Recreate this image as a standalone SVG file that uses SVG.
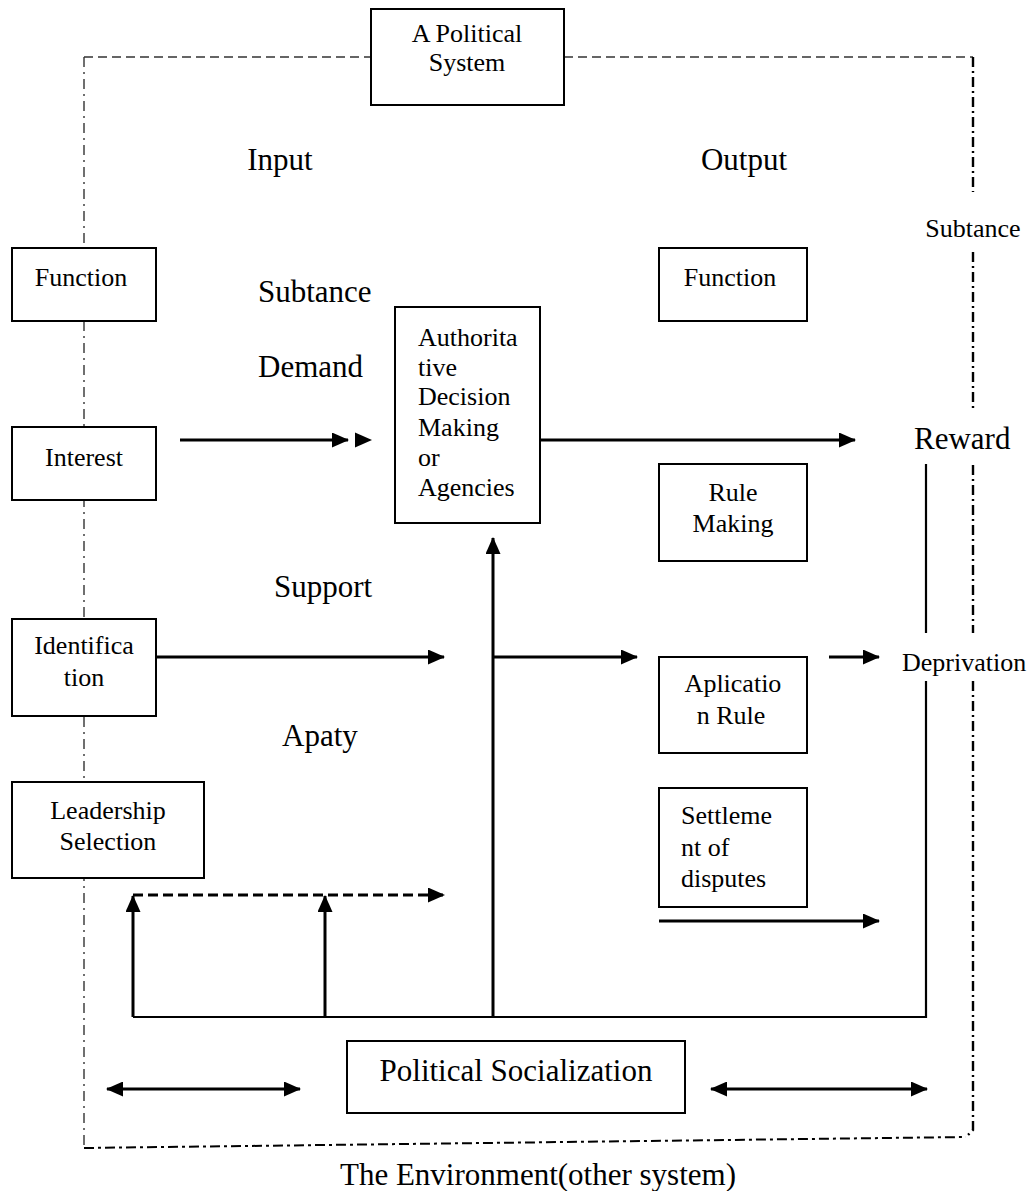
<svg xmlns="http://www.w3.org/2000/svg" width="1034" height="1191" viewBox="0 0 1034 1191">
<style>
.box{fill:#fff;stroke:#000;stroke-width:2}
.t{font-family:"Liberation Serif","Times New Roman",serif;fill:#000}
.s{font-size:26px}
.b{font-size:31px}
.c{text-anchor:middle}
.ln{stroke:#000;stroke-width:3;fill:none}
.thin{stroke:#000;stroke-width:2.2;fill:none}
</style>
<defs>
<marker id="ah" viewBox="0 0 17 15" refX="16" refY="7.5" markerWidth="17" markerHeight="15" markerUnits="userSpaceOnUse" orient="auto-start-reverse">
<path d="M0,0 L17,7.5 L0,15 z" fill="#000"/>
</marker>
</defs>
<rect width="1034" height="1191" fill="#fff"/>
<g id="boundary">
<path d="M84,57 H371 M564,57 H973" stroke="#333" stroke-width="1.6" stroke-dasharray="9,5" fill="none"/>
<path d="M84,57 V1148" stroke="#333" stroke-width="1.4" stroke-dasharray="10,5,2,5" fill="none"/>
<path d="M973,57 V192 M973,252 V408 M973,465 V633 M973,681 V1130 L966,1137" stroke="#000" stroke-width="2.4" stroke-dasharray="10,4,2,4" fill="none"/>
<path d="M84,1148 L966,1137" stroke="#000" stroke-width="2" stroke-dasharray="10,4,3,4" fill="none"/>
</g>
<g id="connectors">
<line class="ln" x1="180" y1="440" x2="348" y2="440" marker-end="url(#ah)"/>
<path d="M355,432.5 L372,440 L355,447.5 z" fill="#000"/>
<line class="ln" x1="540" y1="440" x2="855" y2="440" marker-end="url(#ah)"/>
<line class="ln" x1="156" y1="657" x2="444" y2="657" marker-end="url(#ah)"/>
<line class="ln" x1="493" y1="657" x2="637" y2="657" marker-end="url(#ah)"/>
<line class="ln" x1="829" y1="657" x2="879" y2="657" marker-end="url(#ah)"/>
<line class="ln" x1="493" y1="1017" x2="493" y2="538" marker-end="url(#ah)"/>
<line class="ln" x1="659" y1="921" x2="879" y2="921" marker-end="url(#ah)"/>
<line class="ln" x1="133" y1="895" x2="444" y2="895" stroke-dasharray="10,5" marker-end="url(#ah)"/>
<line class="ln" x1="133" y1="1017" x2="133" y2="896" marker-end="url(#ah)"/>
<line class="ln" x1="325" y1="1017" x2="325" y2="896" marker-end="url(#ah)"/>
<path class="thin" d="M133,1017 H926 V681 M926,633 V464"/>
<line class="ln" x1="107" y1="1089" x2="300" y2="1089" marker-start="url(#ah)" marker-end="url(#ah)"/>
<line class="ln" x1="711" y1="1089" x2="927" y2="1089" marker-start="url(#ah)" marker-end="url(#ah)"/>
</g>
<g id="political-system">
<rect class="box" x="371" y="9" width="193" height="96"/>
<text class="t s c" x="467" y="42">A Political</text>
<text class="t s c" x="467" y="71">System</text>
</g>
<g id="function-in">
<rect class="box" x="12" y="248" width="144" height="73"/>
<text class="t s c" x="81" y="286">Function</text>
</g>
<g id="interest">
<rect class="box" x="12" y="427" width="144" height="73"/>
<text class="t s c" x="84" y="466">Interest</text>
</g>
<g id="identification">
<rect class="box" x="12" y="619" width="144" height="97"/>
<text class="t s c" x="84" y="654">Identifica</text>
<text class="t s c" x="84" y="686">tion</text>
</g>
<g id="leadership">
<rect class="box" x="12" y="782" width="192" height="96"/>
<text class="t s c" x="108" y="819">Leadership</text>
<text class="t s c" x="108" y="850">Selection</text>
</g>
<g id="authoritative">
<rect class="box" x="395" y="307" width="145" height="216"/>
<text class="t s" x="418" y="346">Authorita</text>
<text class="t s" x="418" y="376">tive</text>
<text class="t s" x="418" y="405">Decision</text>
<text class="t s" x="418" y="436">Making</text>
<text class="t s" x="418" y="466">or</text>
<text class="t s" x="418" y="496">Agencies</text>
</g>
<g id="function-out">
<rect class="box" x="659" y="248" width="148" height="73"/>
<text class="t s c" x="730" y="286">Function</text>
</g>
<g id="rule-making">
<rect class="box" x="659" y="464" width="148" height="97"/>
<text class="t s c" x="733" y="501">Rule</text>
<text class="t s c" x="733" y="532">Making</text>
</g>
<g id="application-rule">
<rect class="box" x="659" y="657" width="148" height="96"/>
<text class="t s c" x="733" y="692">Aplicatio</text>
<text class="t s c" x="731" y="724">n Rule</text>
</g>
<g id="settlement">
<rect class="box" x="659" y="788" width="148" height="119"/>
<text class="t s" x="681" y="824">Settleme</text>
<text class="t s" x="681" y="856">nt of</text>
<text class="t s" x="681" y="887">disputes</text>
</g>
<g id="political-socialization">
<rect class="box" x="347" y="1041" width="338" height="72"/>
<text class="t b c" x="516" y="1081">Political Socialization</text>
</g>
<g id="labels">
<text class="t b c" x="280" y="170">Input</text>
<text class="t b c" x="744" y="170">Output</text>
<text class="t s c" x="973" y="237">Subtance</text>
<text class="t b" x="258" y="302">Subtance</text>
<text class="t b" x="258" y="377">Demand</text>
<text class="t b" x="274" y="597">Support</text>
<text class="t b" x="282" y="746">Apaty</text>
<text class="t b" x="914" y="449">Reward</text>
<text class="t s" x="902" y="671">Deprivation</text>
<text class="t b c" x="538" y="1185">The Environment(other system)</text>
</g>
</svg>
